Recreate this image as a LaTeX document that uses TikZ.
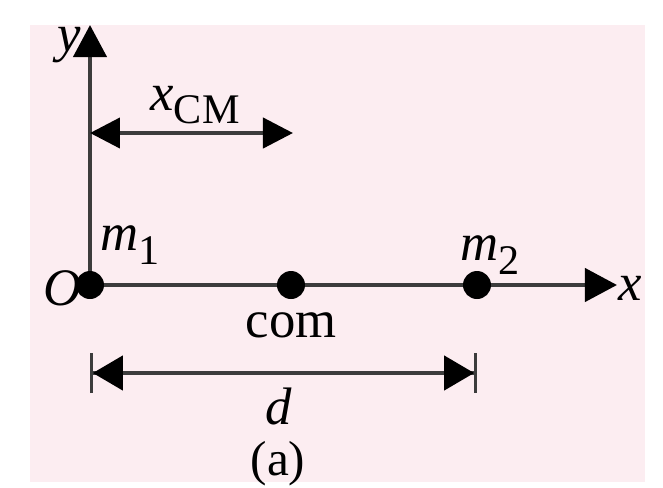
\documentclass[tikz,border=0pt]{standalone}
\usepackage{fontspec}
\setmainfont{Liberation Serif}
\usepackage{tikz}
\usetikzlibrary{positioning, arrows.meta}
\definecolor{paper}{RGB}{252,237,241}
\definecolor{ink}{RGB}{60,60,60}
\newcommand{\symsub}[2]{\textit{#1}\raisebox{-0.55ex}{\fontsize{12}{13}\selectfont #2}}

\tikzset{
  axis/.style={draw=ink, line width=1.2pt, arrows={-Triangle[length=0.32cm, width=0.33cm, color=black]}},
  span/.style={draw=ink, line width=1.2pt, arrows={Triangle[length=0.3cm, width=0.3cm, color=black]-Triangle[length=0.3cm, width=0.3cm, color=black]}},
  barspan/.style={draw=ink, line width=1.2pt, arrows={{Bar[width=0.4cm, line width=0.8pt, color=ink]Triangle[length=0.3cm, width=0.34cm, color=black, sep=0pt]}-{Triangle[length=0.3cm, width=0.34cm, color=black, sep=0pt]Bar[width=0.4cm, line width=0.8pt, color=ink]}}},
  mass/.style={circle, fill=black, inner sep=0pt, minimum size=0.28cm},
  lbl/.style={inner sep=0pt}
}

\begin{document}
\begin{tikzpicture}[font=\fontsize{15}{17}\selectfont]
    \useasboundingbox (-0.90,-2.02) rectangle (5.73,2.85);
    \fill[paper] (-0.60,-1.97) rectangle (5.55,2.60);

    \coordinate (origin) at (0,0);
    \coordinate (xend) at (5.27,0);
    \coordinate (yend) at (0,2.60);

    \draw[axis] (origin) -- (xend);
    \draw[axis] (origin) -- (yend);

    \node[mass] at (0,0) (m1dot) {};
    \node[mass] at (2.01,0) (comdot) {};
    \node[mass] at (3.87,0) (m2dot) {};

    \node[lbl] at (-0.21,2.40) (ylab) {\textit{y}};
    \node[lbl] at (5.40,-0.03) (xlab) {\textit{x}};
    \node[lbl] at (-0.27,-0.03) (olab) {\textit{O}};
    \node[lbl] at (0.40,0.40) (m1lab) {\symsub{m}{1}};
    \node[lbl] at (4.00,0.30) (m2lab) {\symsub{m}{2}};
    \node[lbl] at (2.01,-0.40) (comlab) {com};

    % x_CM span
    \coordinate (cmstart) at (0,1.52);
    \coordinate (cmend) at (2.03,1.52);
    \draw[span] (cmstart) -- (cmend);
    \node[lbl] at (1.05,1.80) (cmlab) {\symsub{x}{CM}};

    % separation d
    \coordinate (dstart) at (0,-0.88);
    \coordinate (dend) at (3.87,-0.88);
    \draw[barspan] (dstart) -- (dend);
    \node[lbl] at (1.89,-1.21) (dlab) {\textit{d}};
    \node[lbl, font=\fontsize{14}{16}\selectfont] at (1.88,-1.79) (caption) {(a)};
\end{tikzpicture}
\end{document}
